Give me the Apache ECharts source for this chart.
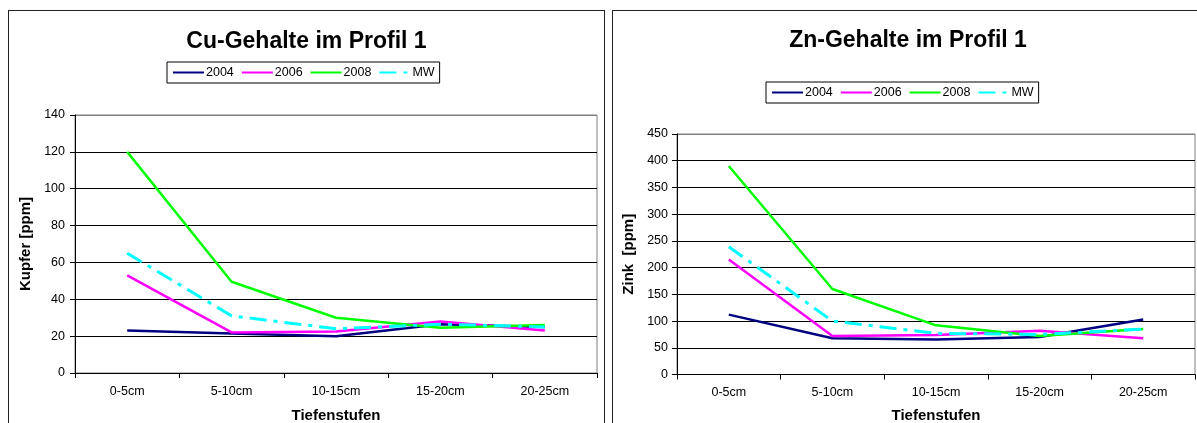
<!DOCTYPE html>
<html>
<head>
<meta charset="utf-8">
<script src="https://cdn.jsdelivr.net/npm/echarts@6/dist/echarts.min.js"></script>
<style>
html,body{margin:0;padding:0;background:#fff;width:1197px;height:423px;overflow:hidden;}
.box{position:absolute;border:1px solid #222;background:#fff;}
#cu{left:8px;top:10px;width:595px;height:430px;}
#zn{left:612px;top:10px;width:590px;height:430px;}
</style>
</head>
<body>
<div id="cu" class="box"></div>
<div id="zn" class="box"></div>
<script>
const categories = ['0-5cm', '5-10cm', '10-15cm', '15-20cm', '20-25cm'];
const seriesNames = ['2004', '2006', '2008', 'MW'];

const cu2004 = [23, 21.5, 20, 26.5, 25];
const cu2006 = [53, 22, 22.5, 28, 23];
const cu2008 = [120, 49.5, 30, 24.5, 26];
const cuMW   = [65, 31, 24, 26.5, 25];

const zn2004 = [112, 68, 65.5, 70, 103];
const zn2006 = [215, 72, 74, 82, 68];
const zn2008 = [390, 160, 92, 72, 85];
const znMW   = [239, 100, 77, 75, 85];

const cuTicks = {min: 0, max: 140, interval: 20};
const znTicks = {min: 0, max: 450, interval: 50};

const colors = ['#000080', '#FF00FF', '#00FF00', '#00FFFF'];
const FONT = 'Liberation Sans, Arial, sans-serif';

function build(cfg) {
  const data = cfg.data;
  const nLines = cfg.ticks.max / cfg.ticks.interval + 1;
  const splitColors = [];
  for (let i = 0; i < nLines; i++) splitColors.push(i === nLines - 1 ? '#808080' : '#000');
  return {
    animation: false,
    backgroundColor: '#fff',
    title: {
      text: cfg.title, left: 'center', top: cfg.titleTop,
      textStyle: {fontFamily: FONT, fontSize: 23, fontWeight: 'bold', color: '#000'}
    },
    legend: {
      data: seriesNames, left: cfg.legendLeft, top: cfg.legendTop,
      orient: 'horizontal', itemWidth: 31, itemHeight: 12, itemGap: 7,
      padding: [4, 5, 4, 5], borderColor: '#000', borderWidth: 1,
      backgroundColor: '#fff', selectedMode: false,
      itemStyle: {opacity: 0},
      textStyle: {fontFamily: FONT, fontSize: 12.5, color: '#000', padding: [0, 0, 0, -3]}
    },
    grid: {
      left: cfg.grid.left, top: cfg.grid.top, width: cfg.grid.width, height: cfg.grid.height,
      show: true, borderColor: '#808080', borderWidth: 1, backgroundColor: '#fff',
      containLabel: false
    },
    xAxis: {
      type: 'category', data: categories, boundaryGap: true,
      name: 'Tiefenstufen', nameLocation: 'middle', nameGap: cfg.xNameGap,
      nameTextStyle: {fontFamily: FONT, fontSize: 15, fontWeight: 'bold', color: '#000'},
      axisLine: {lineStyle: {color: '#000', width: 1}},
      axisTick: {show: true, length: 5, inside: false, alignWithLabel: false, lineStyle: {color: '#000'}},
      axisLabel: {fontFamily: FONT, fontSize: 12.5, color: '#000', margin: 12, interval: 0},
      splitLine: {show: false}
    },
    yAxis: {
      type: 'value', min: cfg.ticks.min, max: cfg.ticks.max, interval: cfg.ticks.interval,
      name: cfg.yName, nameLocation: 'middle', nameGap: cfg.yNameGap, nameRotate: 90,
      nameTextStyle: {fontFamily: FONT, fontSize: 15, fontWeight: 'bold', color: '#000'},
      axisLine: {show: true, lineStyle: {color: '#000', width: 1}},
      axisTick: {show: true, length: 5, inside: false, lineStyle: {color: '#000'}},
      axisLabel: {fontFamily: FONT, fontSize: 12.5, color: '#000', margin: cfg.yLabelMargin},
      splitLine: {show: true, lineStyle: {color: splitColors, width: 1}}
    },
    series: seriesNames.map((n, i) => ({
      name: n, type: 'line', data: data[i], symbol: 'none', smooth: false,
      color: colors[i],
      lineStyle: i === 3
        ? {color: colors[i], width: 3, type: [17, 7, 4, 7]}
        : {color: colors[i], width: 2.5, type: 'solid'},
      z: 2 + i
    }))
  };
}

const cuChart = echarts.init(document.getElementById('cu'), null, {renderer: 'canvas'});
cuChart.setOption(build({
  title: 'Cu-Gehalte im Profil 1', titleTop: 14,
  legendLeft: 158, legendTop: 51,
  grid: {left: 66, top: 104, width: 522, height: 258},
  ticks: cuTicks, yName: 'Kupfer [ppm]', yNameGap: 40, yLabelMargin: 10, xNameGap: 35,
  data: [cu2004, cu2006, cu2008, cuMW]
}));

const znChart = echarts.init(document.getElementById('zn'), null, {renderer: 'canvas'});
znChart.setOption(build({
  title: 'Zn-Gehalte im Profil 1', titleTop: 13,
  legendLeft: 153, legendTop: 71,
  grid: {left: 64, top: 123, width: 518, height: 240.5},
  ticks: znTicks, yName: 'Zink  [ppm]', yNameGap: 37, yLabelMargin: 9, xNameGap: 34,
  data: [zn2004, zn2006, zn2008, znMW]
}));
</script>
</body>
</html>
